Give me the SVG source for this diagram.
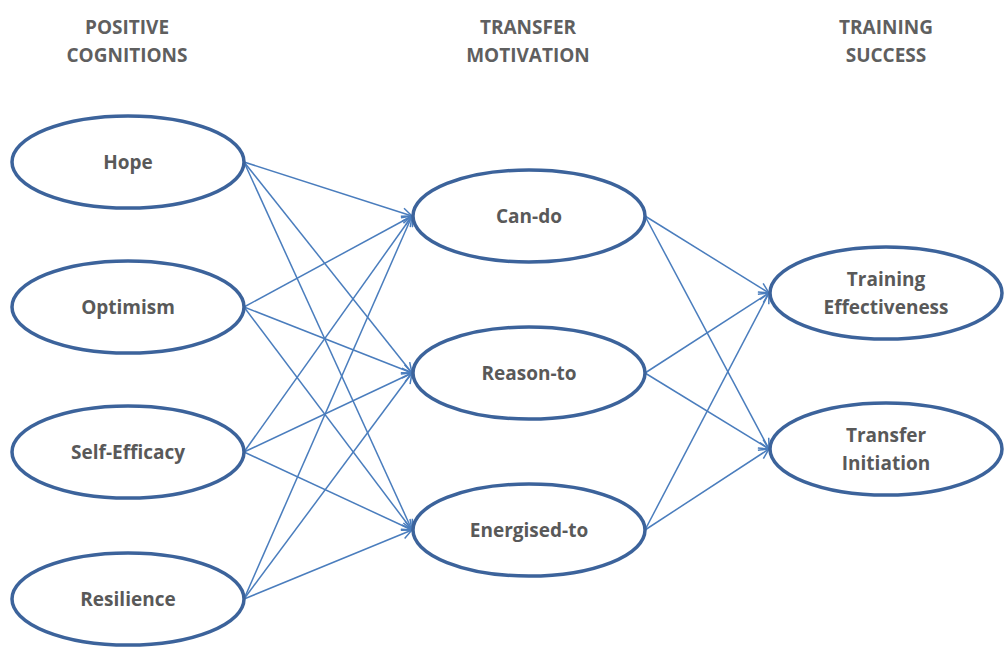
<svg xmlns="http://www.w3.org/2000/svg" width="1005" height="656" viewBox="0 0 1005 656">
<style>
.node ellipse{fill:#fff;stroke:#3c639b;stroke-width:3.5}
.lbl{font-family:"Open Sans","Liberation Sans",sans-serif;font-weight:bold;font-size:19px;fill:#595959;text-anchor:middle}
.hdr{font-family:"Open Sans","Liberation Sans",sans-serif;font-weight:bold;font-size:19px;fill:#5f5f5f;text-anchor:middle}
#connectors line{stroke:#4a7dbd;stroke-width:1.5;marker-end:url(#arr)}
</style>
<defs>
<marker id="arr" viewBox="0 0 12 12" refX="11" refY="6" markerWidth="12" markerHeight="12" markerUnits="userSpaceOnUse" orient="auto">
<path d="M1,1 L11,6 L1,11" fill="none" stroke="#4a7dbd" stroke-width="1.5"/>
</marker>
</defs>
<g id="headers">
<text class="hdr" x="127" y="34">POSITIVE</text>
<text class="hdr" x="127" y="62">COGNITIONS</text>
<text class="hdr" x="528" y="34">TRANSFER</text>
<text class="hdr" x="528" y="62">MOTIVATION</text>
<text class="hdr" x="886" y="34">TRAINING</text>
<text class="hdr" x="886" y="62">SUCCESS</text>
</g>
<g id="connectors">
<line x1="244" y1="162" x2="412" y2="216"/>
<line x1="244" y1="162" x2="412" y2="373"/>
<line x1="244" y1="162" x2="412" y2="530"/>
<line x1="244" y1="307" x2="412" y2="216"/>
<line x1="244" y1="307" x2="412" y2="373"/>
<line x1="244" y1="307" x2="412" y2="530"/>
<line x1="244" y1="452" x2="412" y2="216"/>
<line x1="244" y1="452" x2="412" y2="373"/>
<line x1="244" y1="452" x2="412" y2="530"/>
<line x1="244" y1="599" x2="412" y2="216"/>
<line x1="244" y1="599" x2="412" y2="373"/>
<line x1="244" y1="599" x2="412" y2="530"/>
<line x1="645" y1="216" x2="769" y2="293"/>
<line x1="645" y1="216" x2="769" y2="449"/>
<line x1="645" y1="373" x2="769" y2="293"/>
<line x1="645" y1="373" x2="769" y2="449"/>
<line x1="645" y1="530" x2="769" y2="293"/>
<line x1="645" y1="530" x2="769" y2="449"/>
</g>
<g id="hope" class="node"><ellipse cx="128" cy="162" rx="116" ry="46"/><text class="lbl" x="128" y="169">Hope</text></g>
<g id="optimism" class="node"><ellipse cx="128" cy="307" rx="116" ry="46"/><text class="lbl" x="128" y="314">Optimism</text></g>
<g id="self-efficacy" class="node"><ellipse cx="128" cy="452" rx="116" ry="46"/><text class="lbl" x="128" y="459">Self-Efficacy</text></g>
<g id="resilience" class="node"><ellipse cx="128" cy="599" rx="116" ry="46"/><text class="lbl" x="128" y="606">Resilience</text></g>
<g id="can-do" class="node"><ellipse cx="529" cy="216" rx="116" ry="46"/><text class="lbl" x="529" y="223">Can-do</text></g>
<g id="reason-to" class="node"><ellipse cx="529" cy="373" rx="116" ry="46"/><text class="lbl" x="529" y="380">Reason-to</text></g>
<g id="energised-to" class="node"><ellipse cx="529" cy="530" rx="116" ry="46"/><text class="lbl" x="529" y="537">Energised-to</text></g>
<g id="training-effectiveness" class="node"><ellipse cx="886" cy="293" rx="116" ry="46"/><text class="lbl" x="886" y="286">Training</text><text class="lbl" x="886" y="314">Effectiveness</text></g>
<g id="transfer-initiation" class="node"><ellipse cx="886" cy="449" rx="116" ry="46"/><text class="lbl" x="886" y="442">Transfer</text><text class="lbl" x="886" y="470">Initiation</text></g>
</svg>
